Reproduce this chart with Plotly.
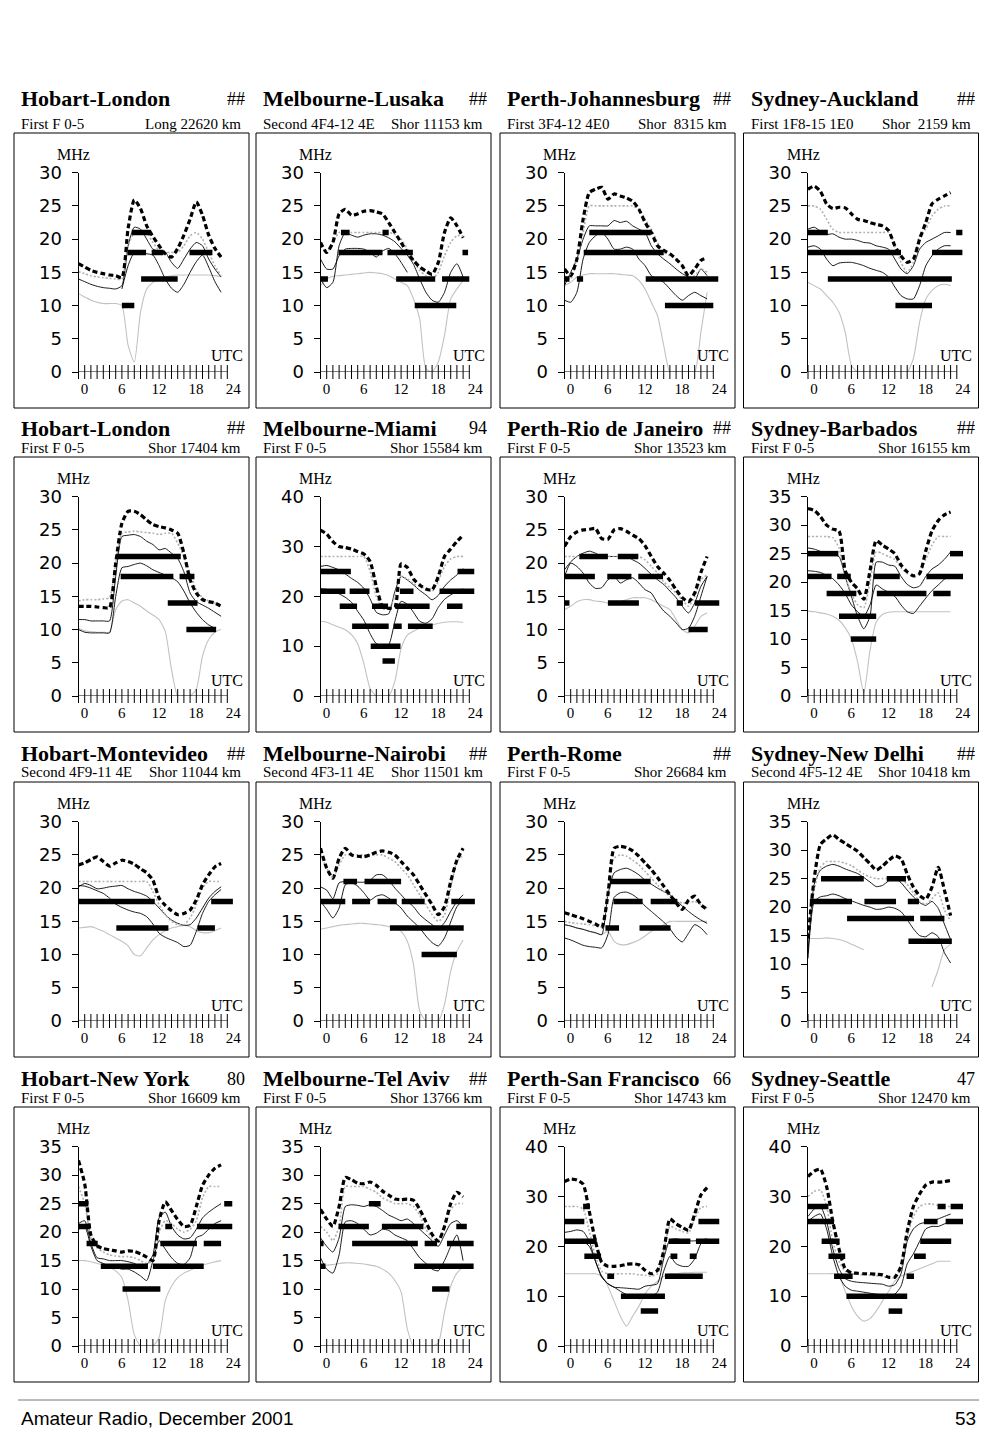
import plotly.graph_objects as go

# ---------------- data ----------------
HOURS = list(range(24))
TICK_HOURS = list(range(25))
HOUR_LABELS = [0, 6, 12, 18, 24]

TITLES = ["Hobart-London", "Melbourne-Lusaka", "Perth-Johannesburg", "Sydney-Auckland",
          "Hobart-London", "Melbourne-Miami", "Perth-Rio de Janeiro", "Sydney-Barbados",
          "Hobart-Montevideo", "Melbourne-Nairobi", "Perth-Rome", "Sydney-New Delhi",
          "Hobart-New York", "Melbourne-Tel Aviv", "Perth-San Francisco", "Sydney-Seattle"]
TAGS = ["##", "##", "##", "##", "##", "94", "##", "##",
        "##", "##", "##", "##", "80", "##", "66", "47"]
MODES = ["First F 0-5", "Second 4F4-12 4E", "First 3F4-12 4E0", "First 1F8-15 1E0",
         "First F 0-5", "First F 0-5", "First F 0-5", "First F 0-5",
         "Second 4F9-11 4E", "Second 4F3-11 4E", "First F 0-5", "Second 4F5-12 4E",
         "First F 0-5", "First F 0-5", "First F 0-5", "First F 0-5"]
PATHS = ["Long 22620 km", "Shor 11153 km", "Shor \u00a08315 km", "Shor \u00a02159 km",
         "Shor 17404 km", "Shor 15584 km", "Shor 13523 km", "Shor 16155 km",
         "Shor 11044 km", "Shor 11501 km", "Shor 26684 km", "Shor 10418 km",
         "Shor 16609 km", "Shor 13766 km", "Shor 14743 km", "Shor 12470 km"]
Y_MAX = [30, 30, 30, 30, 30, 40, 30, 35, 30, 30, 30, 35, 35, 35, 40, 40]

# thick dotted upper curve (MHz, hourly 0..23)
MUF_HI = [
    [16.3,15.8,15.3,15,14.8,14.6,14.5,14.2,21.6,25.9,24.6,22,20.4,19,17.8,17.3,18.6,20.6,23,25.6,23.6,20.6,18.6,17.3],
    [19.5,18,19.5,23.8,24.5,23.6,23.8,24.2,24.3,24.1,23.8,22.5,21,19.5,18,16.8,15.8,15.2,14.7,16.5,21,23.2,22,20.2],
    [15.5,14.5,17,23,27,27.5,27.8,26,26.8,26.5,26.2,25.7,24.5,22.5,21,19,18.3,17.8,17,16,14.5,15.5,16.8,17.2],
    [27.5,28,27.2,25.3,24.6,24.8,24.7,23.8,23,22.8,22.5,22.2,22,21.3,19,17.5,16.5,17,20,22.5,25.3,26,26.5,27],
    [13.5,13.5,13.5,13.4,13.3,13.3,20,26,27.8,27.8,27.3,26.5,25.8,25.5,25.3,25,24.5,21.5,17.5,15.5,14.5,14.2,14,13.5],
    [33.3,32.5,31,30,29.8,29.5,29,28.5,27,22,18,17.6,17.8,26.5,25.8,23.5,22.3,21.5,21.3,24,28,29.5,31,32.3],
    [22.5,24,24.7,25,25.1,25.2,23.7,23.6,25,25.2,24.8,24.2,23.7,22.6,21,19.5,18.5,17.4,16,14.8,14.2,15.5,18.6,21],
    [32.9,32.6,31.5,30,29.3,29,22,20,18.8,17,22,27.3,26.5,25.8,25,23,21.8,21.1,21.5,25.5,29,30.8,31.8,32.3],
    [23.5,23.8,24.3,24.7,24,23.3,23.8,24.2,24,23.6,22.9,22.3,21.2,18.5,17.4,16.6,16,16.2,16.7,18.2,20.5,22,23.2,23.7],
    [26,23,21.5,24.5,26,25,24.8,24.7,25,25.4,25.6,25.4,25,24,23,22,20.5,19,17.5,16,17.2,21,24.2,26],
    [16.3,16,15.7,15.4,15,14.6,14.1,19,26,26.3,26.1,25.6,24.8,23.8,22.8,21.6,20.3,19,17.8,16.8,18.2,18.8,17.5,16.8],
    [14.5,25,31,32,32.7,31.9,31.2,30.5,29.8,28.7,27.6,26.5,27.2,28.2,29,28.5,25.8,23.5,22,21.4,23.5,27,23,18.5],
    [32.6,28.5,19.5,17.6,17.1,16.9,16.7,16.5,16.7,16.6,16.2,15.6,15,22,25.3,23.8,22.2,21,21.2,24.5,28.2,30,31.2,31.8],
    [24,22.3,21,24.5,29.6,29.2,28.6,28.5,28.8,28.2,27.2,26.5,25.8,25.7,25.8,25.6,24,21.8,19.6,18.4,21,25,27,26.2],
    [33,33.5,33.3,32.5,27,21,16.8,16,16,16.1,16.4,16.5,16.3,15.2,14.5,15.2,19,25.5,24.5,23.8,23.2,26.5,30.3,31.8],
    [34,35.1,35.5,32,25,19.5,15.5,14.7,14.6,14.5,14.5,14.4,14.3,13.8,13.8,16,23,28,30.5,32.3,32.9,32.9,33,33.2],
]

# light grey dotted curve
MUF_MED = [
    [15.1,14.8,14.5,14.3,14.2,14.1,14,14,19,21,21.2,21,19.5,18.3,18,18,18,19,20.5,21,20,18,16,14.5],
    [19,18,19.5,21,21,21,21,21,21,21,21,21,20.7,20,18.5,16.8,15.3,14.5,14,15,17.5,19.5,20.5,20.5],
    [14.5,14,17,21,25,25,25,25,25,25,25,25,24.5,23,21.5,19.5,18,17.5,17,16,14.3,14.5,15.5,15],
    [25,25,24.5,23,21.5,21,21,21,21,21,21,21,21,21,19,16.5,15,16.5,20.5,21.5,23.5,24.5,25,25],
    [14.3,14.5,14.5,14.5,14.6,14.8,20,24.5,24.7,24.8,24.7,24.6,24.5,24.3,24.5,24.5,23,21,18.5,16,14.8,14.3,14,13.8],
    [28,28,28,28,28,28,28,28,25,20,17.5,17.5,20,24,23.5,22.5,22,21.5,21,23,26,27.5,28,28],
    [21,21,21,21,21,21,21,21,21,21,21,21,21,20.5,19.5,18.5,17.2,16.3,15.5,14.5,13.5,15,17.5,18.2],
    [28,28,28,28,27.8,26,21,18,16,15.5,20,25.3,25,24.5,24,22.5,21.5,21,21.5,24,26.5,28,28,28],
    [21,21,21,21,21,21,21,21,21,21,21,21,19.5,17.5,16,15,14.5,14.5,15.5,17.5,20,21,21,21],
    [25,23,21.5,23.5,25,25,25,25,25,25,25,24.5,24,23,22,20.5,19,17.5,16,15,16,20,24,25],
    [15,14.8,14.7,14.6,14.5,14.3,14.2,20,24.5,25,24.8,24.2,23.5,22.5,21.5,20.5,19.5,18.8,18,17.8,17.8,18,17.5,17],
    [14.5,23,27,28,28,28,27.7,27.3,26.5,25.8,25.3,25,25,25,25,25,24,22.5,21,20.5,21.5,22.5,19.5,17.5],
    [28,25,19,17.2,16.5,16,15.8,15.7,15.7,15.5,15,14.5,15,20,22,21.5,20.5,20,20.5,22,26,28,28,28],
    [21,20,18.5,21,28,28,28,28,27.5,27,26,25.5,25,25,25,24.5,23,20.5,19,18.5,21,24,25,25],
    [28,28,28,27.5,23,18,15,14.5,14.5,14.5,14.5,14.5,14.3,14.2,14,14.5,19,24,23.5,23,22.7,25.5,27.8,28],
    [30,31,31.3,28,21,17,15,14.5,14.4,14.3,14.2,14.1,14,13.7,13.8,15.5,22,26,28,28.5,28.5,28.2,28,28],
]

# thin black upper curve
FOT_HI = [
    [14,13.6,13.2,12.9,12.7,12.6,12.5,13,19,21.8,21.5,20,18.5,18.2,18,16.5,15.6,17,18.5,19.5,19,17,15.5,14.3],
    [14,12.7,13.5,19,21,20.6,20.3,20.6,20.8,20.8,20.6,20.2,19.6,18.6,17.6,16.2,14,12,10.8,10.5,12,15,16.3,14.3],
    [13,15,17,20,22,22,22,22,22.8,22.5,22.7,22,21.5,21,19,17.8,17,16.3,15.5,14.8,14.3,14,15.5,14.5],
    [21.5,21.8,21.2,20.7,20.8,20.3,20,20,19.8,19.5,19.4,19,18.8,18.5,17,15.5,14.8,16,18.5,19.5,20,20.5,21,21],
    [11.5,11.5,11.3,11.3,11.3,11.3,18,24,24.2,24.3,24,23.3,22.8,22,22.2,21.5,20.7,18.7,15.5,14.2,13.7,13.2,12.6,12],
    [26,26.2,25.8,25.3,24.5,23.6,22.8,21.6,19.5,16.8,16.3,16.5,21,24,23.3,22.3,21.2,20.3,19.3,20.2,22,23.3,24.3,25.6],
    [19,20.2,21,21.5,21.8,21.5,21,21,21,21,21,20.5,20,19.2,18.3,17.5,16.8,15.8,14.8,13.5,12.5,14,16.5,18],
    [26,25.8,25.4,25,24.8,24.5,21,17.5,14,11.8,14,23.5,23.5,23,22.8,21,19.6,19,19.3,21,22.3,23,24,25.3],
    [20.2,20.7,20.4,19.9,20,20.2,20.3,20.4,19.9,19.5,19.2,18.8,18,17,16,15.2,14.7,14.4,14.5,15.5,17,18.5,19.5,20.2],
    [20.2,19.7,18.4,20.8,21,21,20.9,20.9,21.2,22,22,21.2,20,19,18,17.2,16,15.2,14.5,13.9,14.8,16.5,18,19],
    [14.5,14.3,14,13.8,13.5,13.3,13,19,22.3,22.8,23,22.6,22,21.2,20.6,20,19.5,19,18.2,17.3,16.5,15.8,15.2,14.7],
    [12,24,26.5,27.2,27.5,27.2,26.7,26.3,25.9,25.2,24.4,23.6,23.8,24.6,25,24.3,23,21.8,20.8,20.3,21,19.8,17,14.3],
    [21.5,22,18,15.5,15.3,15,15,15,14.8,14.5,14,14.3,16,22.5,23.5,21,19.5,18.8,19,20.5,22.5,23.5,24.3,25],
    [19,17.5,16.5,19,24.5,24.8,24.7,24.5,24.8,24.5,23.8,23,22.5,22,22.3,21.5,20.5,19.5,18.5,17.5,19.5,21.5,22,21],
    [22.8,23,23.3,23,21,17,13.8,12.5,11.8,11.7,11.6,11.5,11.4,12,12.2,12.5,17.5,21.3,21.5,21.3,21.1,21.1,21.3,21.5],
    [26,27.5,28,25,19.5,15.5,13.5,13,12.8,12.7,12.6,12.5,12.4,12,12.3,14.5,21,23.5,24.5,24.8,25,25.5,26,26.5],
]

# thin black lower curve
FOT_LO = [
    [None,None,None,None,None,None,None,12.5,16,18,18,17.8,17.6,16,14,12.6,12,13.2,15,16.6,17.6,15.8,13.6,12],
    [17,15.5,15.5,17.5,18.5,18.6,18.6,18.5,18,17.3,18.2,18.6,17.8,16.5,15,None,None,None,None,None,None,None,None,None],
    [10.8,10.5,12,17,19.5,20.5,21,20,18.5,18.5,18.8,18.5,17,16,14.5,14,13.5,12.5,11.5,10.8,11.5,12,11.5,11],
    [18.8,19,18.5,17,16,16.4,16.5,16.5,16.3,16,15.6,15.3,15,14.3,12.8,11.5,11,11,13,16,17.5,18.5,19,19],
    [10,9.6,9.5,9.5,9.5,9.5,15,19.3,19.5,19.8,20,19.6,19,18.6,18.2,17.8,17.2,15.8,14,12.6,11.5,10.7,10.2,None],
    [21.5,21.4,21,20.5,19.8,18.8,17,15.2,12.5,10.5,10.1,10.3,15,19,18.4,16.8,15,14.6,15.5,17.8,19.4,20.3,21,21.5],
    [18,20,19.5,18.5,17,16.2,16.3,17.5,18,17,17.5,17.8,17,16,15.5,14,12.8,12,11,10,10.2,12,15,18],
    [22,21.9,21.7,21.2,20.6,19.5,18,16,14.8,14,16,19.5,18.8,18.2,17.5,16,14.8,14.5,15.8,17.2,18.5,19.5,20.5,21.1],
    [20.4,20.3,20,19.6,19.2,18.5,17.6,17.1,16.7,16.4,16.2,15.7,14.6,13.2,12.6,12.2,11.8,11.2,11.4,13.5,16.2,18,19,19.8],
    [18,16.8,15.5,17,20.5,20.8,20.3,19.3,18.2,18.8,19,18.5,17.8,17,15.8,14.9,14,12.8,11.8,11.3,12.5,14.9,17.2,18.2],
    [12.5,12.2,11.8,11.4,11.2,11.1,11,13,18.6,19.3,19.4,19,18.3,17.3,16.5,15.7,14.9,13.9,12.6,11.9,13.2,14.5,14,13],
    [11,21,21.8,22,22.3,22,21.5,21.1,20.7,20.3,20,19.6,19.7,20,19.8,19.2,17.8,16.2,15,14.8,15.5,14.8,12,10.2],
    [20.5,21,17.5,15,14.5,14,13.8,13.5,13.5,13,12.3,11.5,15,18.5,17,15.5,14.5,14.3,15.5,19,19.5,20.5,21.5,22],
    [15.5,13.5,12.8,16,21.8,22,21.5,20.5,19.5,19.8,20.5,20.3,19.5,19,18.5,17,15.5,14.5,13.5,13.2,15,17.5,19.5,15],
    [21,21,21.2,21,20,17,14,12.5,11.8,11,10.3,9.8,9.5,9.7,10,10.8,15,18,16.5,16,16,17.5,20.5,21.3],
    [25,26,26.5,23.5,18,14,12,11.2,11,10.8,10.6,10.4,10.3,10.2,10.4,12,16.5,18.5,21,23.5,24,24,24.5,25],
]

# light grey lower curve
LUF = [
    [11.8,11.3,10.8,10.5,10.3,10.3,10.3,10,4,1.5,9,12.5,13.5,14,14.3,14.5,14.6,14.6,14.6,14.6,14.6,14.6,14.5,14.4],
    [13,14,14.4,14.5,14.6,14.7,14.8,14.9,15,14.9,14.8,14.5,14,13.5,13,11,8,0.5,0,1.5,5.5,11,12.5,13.8],
    [13,13.5,14.3,14.6,14.8,14.8,14.8,14.8,14.8,14.7,14.6,14.5,13.8,12.5,10.5,8.5,4,0,0,0,0,0,6,12],
    [13.5,13,12.5,11.5,10.5,9,6,1,0,0,0,0,0,0,0,0,0,2,7.5,11,12.3,13,13.2,13],
    [10.2,9.8,9.7,9.6,9.6,9.6,13,14.3,14.5,14,13.5,12.8,12.2,11.5,9.7,4,0,0,0,1,6,8.5,9.6,10],
    [15,14.8,14.3,13.8,13.3,12.3,10.5,6.5,1.5,0,0,0,3,9.5,12.2,13,13.6,14,14.3,14.6,14.8,14.9,14.9,14.8],
    [13,13.5,14.2,14.5,14.5,14.3,14.2,14,14,14.2,14.5,14.8,14.8,14.8,14.5,14,13.5,13,11.5,10,9.5,10.5,12,12.5],
    [14.9,14.8,14.6,14.4,14,13.3,12,10,6,0.5,8,13,14.3,14.7,14.8,14.8,14.8,14.8,14.8,14.8,14.8,14.8,14.8,14.8],
    [14,14.1,14.2,13.9,13.5,13,12.5,12,11.3,10,9.8,11,12.2,13,13.6,14,14.2,14.4,14.2,13.6,13.3,13.3,13.6,14],
    [13.8,14,14.2,14.4,14.5,14.6,14.7,14.7,14.6,14.5,14.4,14.2,14,13.5,12,8.5,1.5,0,0,0,2.5,7.5,10.5,12.2],
    [14.5,14.3,14,13.8,13.5,13.2,13,13.5,12,11.5,11.5,11.8,12.2,12.8,13.5,14,14.5,15,15,15,15,15,15,15],
    [14.5,14.5,14.5,14.6,14.5,14.3,14,13.5,13,12.5,None,None,None,None,None,None,None,None,None,None,6,9,12.5,13.5],
    [15,15,14.8,14.5,14.2,13.8,13.2,12,8,2,0,0,0,1.5,8,10.5,12,12.8,13.3,13.8,14.2,14.5,14.8,15],
    [14,14.2,14.3,14.5,14.6,14.6,14.5,14.4,14.2,14,13.5,12.8,11.5,9.5,3,0,0,0,0,0.5,6,10.5,12.8,13.9],
    [14.5,14.5,14.5,14.5,14.5,14.5,14,12,9,6,4,6,8,10.5,12,13,14,14.5,14.5,14.7,14.7,14.8,14.8,14.8],
    [14.5,14.5,14.5,14.5,14.5,14,11,8,6,5,5.5,7,9,11,13,14,14.5,15,15.5,16,16.5,17,17,17],
]

# recommended band segments: [start UTC, end UTC, MHz]
BANDS = [
    [[7,9,10],[8.6,11.7,21],[7.9,10.9,18],[11.8,13.7,18],[17.9,21.6,18],[10.1,16,14]],
    [[0,1.2,14],[3.3,4.7,21],[10,11,21],[2.9,10,18],[10.8,14.9,18],[22.9,23.8,18],[12.2,18.5,14],[19.6,24,14],[15.2,21.9,10]],
    [[0,0.8,14],[2,3,14],[4,13.9,21],[3.1,16,18],[13.1,24.8,14],[16.2,24,10]],
    [[0,3.2,21],[23.9,24.9,21],[0,15,18],[20,24.9,18],[3.2,23.2,14],[14.1,20,10]],
    [[6.1,16.5,21],[6.8,15.3,18],[16.3,18.7,18],[14.4,19.2,14],[17.4,22.2,10]],
    [[0,4.9,25],[22.1,24.8,25],[0,4,21],[4.7,7.9,21],[12.8,15,21],[19.2,24.8,21],[3.1,5.9,18],[8.3,10.9,18],
     [12.1,17.6,18],[20.4,22.9,18],[5.1,11,14],[11.8,13.1,14],[14.1,18.1,14],[8.1,12.9,10],[10,12,7]],
    [[2.4,7,21],[8.6,11.9,21],[0,4.9,18],[6.9,10.8,18],[11.9,15.9,18],[0,0.8,14],[7,12,14],[18.1,19.1,14],[21,25,14],[20,23.1,10]],
    [[0,4.9,25],[22.9,25,25],[0,3.8,21],[4.7,6.9,21],[10.6,14.8,21],[19.1,25,21],[3,7.8,18],[11.1,19.1,18],[20.2,23,18],[5,11,14],[6.9,11,10]],
    [[0,12.3,18],[21.4,24.9,18],[6.1,14.5,14],[19.2,22,14]],
    [[3.7,5.9,21],[7.1,13,21],[0,4,18],[5.1,8,18],[9.2,12.3,18],[13.1,16.8,18],[21.1,24.9,18],[11.2,23.1,14],[16.3,22,10]],
    [[7.3,13.9,21],[7.9,12.6,18],[13.9,18.2,18],[6.6,8.8,14],[12.1,17.1,14]],
    [[2.1,9,25],[12.7,15.8,25],[0.3,7.1,21],[9.1,14.2,21],[16.1,17.9,21],[6.3,17.1,18],[18.1,22,18],[16.2,23.2,14]],
    [[0,1.6,25],[23.5,24.8,25],[0,1.9,21],[14,15.1,21],[19.1,24.8,21],[1.3,3.1,18],[13.2,19.1,18],[20.2,23,18],
     [3.6,11.2,14],[12,20.2,14],[7.1,13.2,10]],
    [[2.9,7.8,21],[9.9,16.6,21],[21.9,23.6,21],[0,0.5,18],[5.1,15.7,18],[16.8,18.8,18],[20.4,24.7,18],[7.8,9.7,25],
     [0,0.8,14],[15.1,24.7,14],[18,20.8,10]],
    [[3,4.1,28],[0,3.2,25],[21.6,25,25],[0,5.2,21],[16.8,20.3,21],[21.2,25,21],[3.2,5.9,18],[17.1,18.2,18],
     [20.2,21.3,18],[6.9,8,14],[16.2,22.3,14],[9.1,16.2,10],[12.3,15.1,7]],
    [[0,3.3,28],[20.9,22.2,28],[23,25.1,28],[0,4.2,25],[18.7,20.9,25],[22.2,25.1,25],[2.2,5.1,21],[18.1,23.1,21],
     [3.3,6,18],[17.1,19,18],[4.2,7.2,14],[15.9,17.1,14],[6.2,16,10],[13,15.2,7]],
]

FOOTER_LEFT = "Amateur Radio, December 2001"
FOOTER_RIGHT = "53"

# ---------------- layout geometry ----------------
W, H = 1000, 1433
BOX_LEFT = [14, 256, 500, 743.5]
BOX_W = 235
BOX_TOP = [133, 457, 782, 1107]
BOX_H = 275
TITLE_Y = [99, 428.5, 753.5, 1078.5]
AX_OFF = 64.5
PX_PER_H = 6.2
X_SPAN = 25

SERIF = "Liberation Serif"
SANS = "DejaVu Sans"


def px(v):
    return v / W


def py(v):
    return 1 - v / H


def note(x, y, text, anchor, family, size):
    return dict(x=px(x), y=py(y), xref="paper", yref="paper", text=text, showarrow=False,
                xanchor=anchor, yanchor="middle", font=dict(family=family, size=size, color="black"))


fig = go.Figure()
axes = {}
annotations = []
shapes = []

for i in range(16):
    r, c = divmod(i, 4)
    n = i + 1
    xa = "x" if n == 1 else f"x{n}"
    ya = "y" if n == 1 else f"y{n}"
    left = BOX_LEFT[c]
    top = BOX_TOP[r]
    ax_x = left + AX_OFF
    y0 = top + 239
    ytop = top + 39.7

    axes["xaxis" if n == 1 else f"xaxis{n}"] = dict(
        domain=[px(ax_x), px(ax_x + X_SPAN * PX_PER_H)], range=[0, X_SPAN], anchor=ya,
        showline=False, showgrid=False, zeroline=False, automargin=False,
        tickmode="array", tickvals=HOUR_LABELS, ticktext=[str(v) for v in HOUR_LABELS],
        ticks="", tickfont=dict(family=SERIF, size=15, color="black"),
        ticklabelshift=6, ticklabelstandoff=6, fixedrange=True)
    axes["yaxis" if n == 1 else f"yaxis{n}"] = dict(
        domain=[py(y0), py(ytop)], range=[0, Y_MAX[i]], anchor=xa,
        showline=True, linecolor="black", linewidth=1, automargin=False,
        ticks="outside", ticklen=6, tickwidth=1, tickcolor="black",
        tick0=0, dtick=10 if Y_MAX[i] == 40 else 5,
        showgrid=False, zeroline=False,
        tickfont=dict(family=SANS, size=18, color="black"),
        ticklabelstandoff=6, fixedrange=True)

    def curve(vals, color, width, dash):
        fig.add_trace(go.Scatter(
            x=HOURS, y=vals, xaxis=xa, yaxis=ya, mode="lines",
            line=dict(color=color, width=width, dash=dash, shape="spline", smoothing=0.6),
            connectgaps=False, hoverinfo="skip", showlegend=False))

    curve(LUF[i], "#c2c2c2", 1.1, "solid")
    curve(FOT_LO[i], "black", 0.9, "solid")
    curve(FOT_HI[i], "black", 0.9, "solid")
    curve(MUF_MED[i], "#b0b0b0", 1.6, "2px,2px")

    bx, by = [], []
    for s, e, f in BANDS[i]:
        bx += [s, e, None]
        by += [f, f, None]
    fig.add_trace(go.Scatter(x=bx, y=by, xaxis=xa, yaxis=ya, mode="lines",
                             line=dict(color="black", width=5.5),
                             hoverinfo="skip", showlegend=False))

    curve(MUF_HI[i], "black", 3.2, "5px,3px")

    # hour axis with crossing ticks
    fig.add_trace(go.Scatter(
        x=TICK_HOURS, y=[0] * len(TICK_HOURS), xaxis=xa, yaxis=ya, mode="lines+markers",
        line=dict(color="black", width=1),
        marker=dict(symbol="line-ns", size=10, color="black", line=dict(width=1, color="black")),
        cliponaxis=False, hoverinfo="skip", showlegend=False))

    # panel frame
    shapes.append(dict(type="rect", xref="paper", yref="paper",
                       x0=px(left), x1=px(left + BOX_W), y0=py(top + BOX_H), y1=py(top),
                       line=dict(color="black", width=1), fillcolor="rgba(0,0,0,0)", layer="below"))

    annotations += [
        note(ax_x - 5, ytop - 18, "MHz", "center", SERIF, 16),
        note(ax_x + 148, y0 - 16, "UTC", "center", SERIF, 16),
        note(left + 5, TITLE_Y[r], f"<b>{TITLES[i]}</b>", "left", SERIF, 22),
        note(left + BOX_W - 2, TITLE_Y[r], TAGS[i], "right", SERIF, 18),
        note(left + 5, top - 9.5, MODES[i], "left", SERIF, 15),
        note(left + BOX_W - 6, top - 9.5, PATHS[i], "right", SERIF, 15),
    ]

# footer
shapes.append(dict(type="line", xref="paper", yref="paper", x0=px(18), x1=px(979),
                   y0=py(1400), y1=py(1400), line=dict(color="#777777", width=1)))
annotations += [
    note(19, 1418, FOOTER_LEFT, "left", "Liberation Sans", 19),
    note(978, 1418, FOOTER_RIGHT, "right", "Liberation Sans", 19),
]

fig.update_layout(
    width=W, height=H, autosize=False,
    margin=dict(l=0, r=0, t=0, b=0, pad=0, autoexpand=False),
    paper_bgcolor="white", plot_bgcolor="rgba(0,0,0,0)",
    showlegend=False, annotations=annotations, shapes=shapes, **axes)

fig.write_html("out.html", config={"displayModeBar": False, "responsive": False},
               post_script="document.body.style.margin='0';")
